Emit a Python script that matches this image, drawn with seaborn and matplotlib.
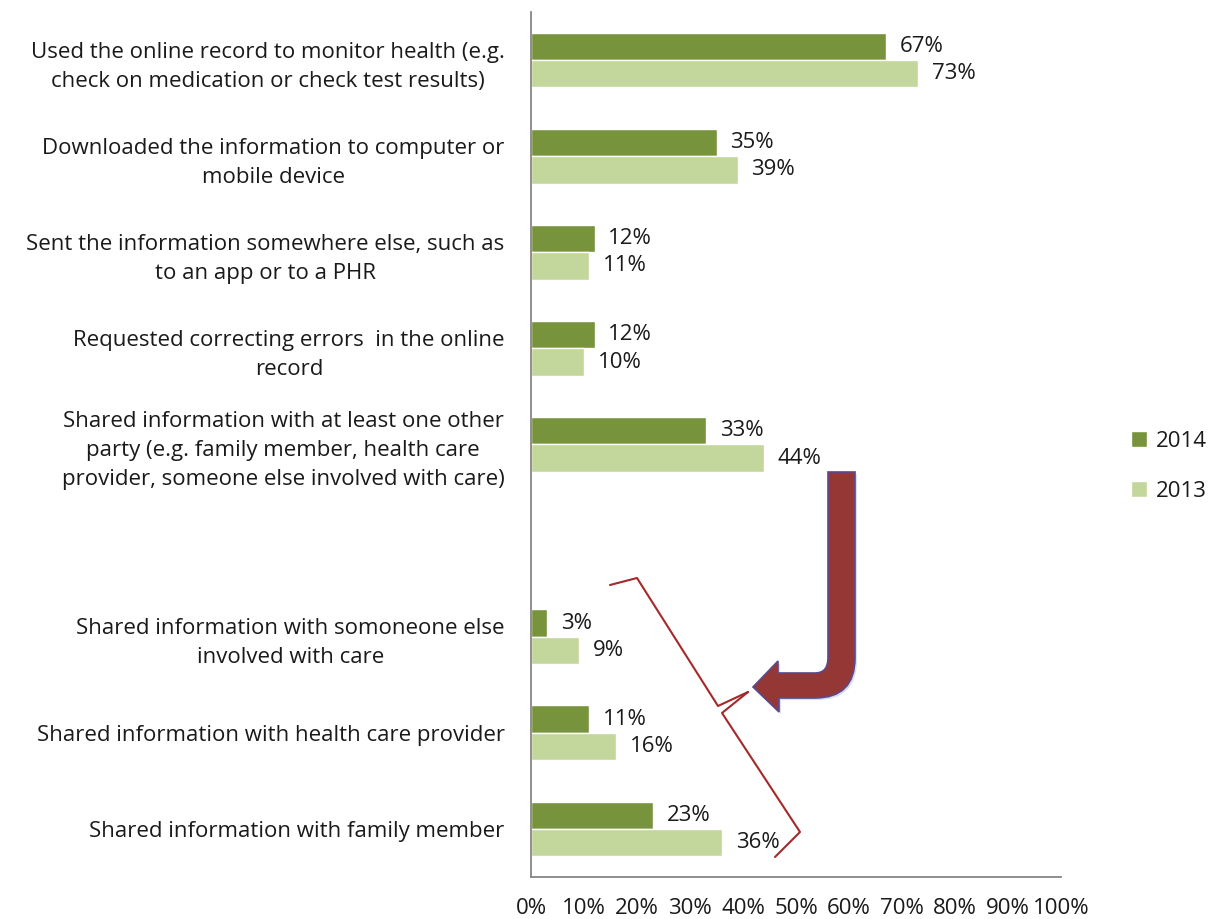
import numpy as np
import pandas as pd
import matplotlib
matplotlib.use("Agg")
import matplotlib.pyplot as plt
from matplotlib.path import Path
from matplotlib.patches import PathPatch
import matplotlib.patheffects as pe
import seaborn as sns

categories = [
    "Used the online record to monitor health (e.g.\ncheck on medication or check test results)",
    "Downloaded the information to computer or\nmobile device",
    "Sent the information somewhere else, such as\nto an app or to a PHR",
    "Requested correcting errors  in the online\nrecord",
    "Shared information with at least one other\nparty (e.g. family member, health care\nprovider, someone else involved with care)",
    "Shared information with somoneone else\ninvolved with care",
    "Shared information with health care provider",
    "Shared information with family member",
]
v2014 = [67, 35, 12, 12, 33, 3, 11, 23]
v2013 = [73, 39, 11, 10, 44, 9, 16, 36]
years = ["2014", "2013"]
xticks = list(range(0, 101, 10))

# empty slot between the summary row and the breakdown rows
order = categories[:5] + [""] + categories[5:]

df = pd.DataFrame({
    "category": categories * 2,
    "value": v2014 + v2013,
    "year": ["2014"] * len(categories) + ["2013"] * len(categories),
})

sns.set_style("white")
plt.rcParams["font.family"] = ["Open Sans", "DejaVu Sans"]
FS = 16

fig = plt.figure(figsize=(12.09, 9.19), dpi=100)
ax = fig.add_axes([531 / 1209, 1 - 877 / 919, 530 / 1209, 865 / 919])

pal = {"2014": "#77933c", "2013": "#c3d69b"}
sns.barplot(data=df, y="category", x="value", hue="year", order=order,
            hue_order=years, palette=pal, width=0.57, orient="h",
            saturation=1, ax=ax, legend=True)

# value labels
for cont in ax.containers:
    for bar in cont:
        w = bar.get_width()
        if np.isnan(w):
            continue
        ax.text(w + 2.6, bar.get_y() + bar.get_height() / 2, f"{w:.0f}%",
                va="center", ha="left", fontsize=FS, color="#1a1a1a")

ax.set_xlim(0, 100)
ax.set_ylim(len(order) - 0.5, -0.5)
ax.set_xticks(xticks)
ax.set_xticklabels([f"{t}%" for t in xticks], fontsize=FS, color="#1a1a1a")
ax.set_xlabel("")
ax.set_ylabel("")
ax.set_yticks(range(len(order)))
ax.set_yticklabels(order, fontsize=FS, color="#1a1a1a")
for lbl in ax.get_yticklabels():
    lbl.set_multialignment("center")
    lbl.set_linespacing(1.5)
ax.set_yticks(np.arange(-0.5, len(order), 1), minor=True)
ax.tick_params(axis="y", which="major", length=0, pad=19)
ax.tick_params(axis="y", which="minor", length=6, width=1.3, color="#868686", direction="out")
ax.tick_params(axis="x", length=6, width=1.3, color="#868686", direction="out", pad=9)

for s in ["top", "right"]:
    ax.spines[s].set_visible(False)
for s in ["left", "bottom"]:
    ax.spines[s].set_color("#868686")
    ax.spines[s].set_linewidth(1.3)

leg = ax.legend(loc="center left", bbox_to_anchor=(1.095, 0.475), frameon=False,
                handlelength=0.7, handleheight=0.7, labelspacing=1.3,
                handletextpad=0.4, fontsize=FS)
for t in leg.get_texts():
    t.set_color("#1a1a1a")


def px(x, y):
    # pixel position -> data coords (x in %, y in category units)
    return ((x - 531) / 5.30, (y - 12) / (865 / 9) - 0.5)


# U-turn arrow
M, L, C = Path.MOVETO, Path.LINETO, Path.CURVE3
pts = [
    (753, 687), (778, 661), (778, 673), (815, 673), (828, 673), (828, 658),
    (828, 472), (855, 472), (855, 658), (855, 698), (815, 698), (779, 698),
    (779, 712), (753, 687),
]
codes = [M, L, L, L, C, C, L, L, L, C, C, L, L, Path.CLOSEPOLY]
arrow = PathPatch(Path([px(*p) for p in pts], codes), facecolor="#953735",
                  edgecolor="#5b4a8b", lw=1.2, zorder=5, clip_on=False)
arrow.set_path_effects([pe.SimplePatchShadow(offset=(1.5, -1.5), shadow_rgbFace="#9aa6c8", alpha=0.35),
                        pe.Normal()])
ax.add_patch(arrow)

# curly brace
brace_top = [(610, 585), (637, 578), (718, 706), (748, 692)]
brace_bot = [(748, 692), (722, 713), (800, 832), (775, 857)]
for seg in (brace_top, brace_bot):
    xy = np.array([px(*p) for p in seg])
    ax.plot(xy[:, 0], xy[:, 1], color="#a5282a", lw=1.5, zorder=5, clip_on=False)

fig.savefig("out.png", dpi=100)
